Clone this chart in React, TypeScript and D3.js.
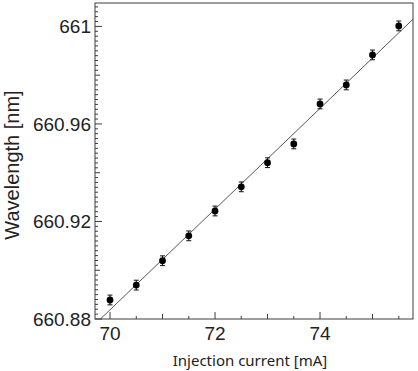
import { useEffect, useRef } from "react";
import * as d3 from "d3";

// injection current (mA) and measured wavelength (nm)
const current = [70, 70.5, 71, 71.5, 72, 72.5, 73, 73.5, 74, 74.5, 75, 75.5];
const wavelength = [
  660.8878, 660.8939, 660.9039, 660.9141, 660.9243, 660.9342,
  660.9441, 660.9518, 660.9682, 660.976, 660.9883, 661.0002,
];
const errBar = [0.002, 0.002, 0.002, 0.002, 0.002, 0.002, 0.002, 0.002, 0.002, 0.002, 0.002, 0.002];

const xTickLabels = [70, 72, 74];
const yTickLabels = [660.88, 660.92, 660.96, 661];

const W = 418;
const H = 371;
const left = 95;
const right = 413;
const top = 3;
const bottom = 319;

function App() {
  const ref = useRef<SVGSVGElement>(null);

  useEffect(() => {
    const svg = d3.select(ref.current);
    svg.selectAll("*").remove();

    const x = d3.scaleLinear().domain([69.714, 75.771]).range([left, right]);
    const y = d3.scaleLinear().domain([660.88, 661.0096]).range([bottom, top]);

    const axisColor = "#3c3c3c";
    const font = "'Liberation Sans', Arial, sans-serif";

    // clip for the fit line
    svg.append("defs").append("clipPath").attr("id", "plot-clip")
      .append("rect")
      .attr("x", left).attr("y", top)
      .attr("width", right - left).attr("height", bottom - top);

    // least squares fit
    const mx = d3.mean(current) as number;
    const my = d3.mean(wavelength) as number;
    const sxy = d3.sum(current, (c, i) => (c - mx) * (wavelength[i] - my));
    const sxx = d3.sum(current, c => (c - mx) * (c - mx));
    const slope = sxy / sxx;
    const fit = (c: number) => my + slope * (c - mx);
    const [x0, x1] = x.domain();

    svg.append("line")
      .attr("clip-path", "url(#plot-clip)")
      .attr("x1", x(x0)).attr("y1", y(fit(x0)))
      .attr("x2", x(x1)).attr("y2", y(fit(x1)))
      .attr("stroke", "#555")
      .attr("stroke-width", 1);

    // error bars
    const eb = svg.append("g").attr("stroke", "#111").attr("stroke-width", 1);
    current.forEach((c, i) => {
      const cx = x(c);
      const yt = y(wavelength[i] + errBar[i]);
      const yb = y(wavelength[i] - errBar[i]);
      eb.append("line").attr("x1", cx).attr("x2", cx).attr("y1", yt).attr("y2", yb);
      eb.append("line").attr("x1", cx - 2.5).attr("x2", cx + 2.5).attr("y1", yt).attr("y2", yt);
      eb.append("line").attr("x1", cx - 2.5).attr("x2", cx + 2.5).attr("y1", yb).attr("y2", yb);
    });

    svg.append("g")
      .selectAll("circle")
      .data(current)
      .join("circle")
      .attr("cx", d => x(d))
      .attr("cy", (d, i) => y(wavelength[i]))
      .attr("r", 3.4)
      .attr("fill", "#000");

    // frame
    svg.append("rect")
      .attr("x", left).attr("y", top)
      .attr("width", right - left).attr("height", bottom - top)
      .attr("fill", "none")
      .attr("stroke", axisColor)
      .attr("stroke-width", 1);

    // inward ticks on the x axis
    const xTicks = d3.range(140, 152).map(k => k / 2);
    svg.append("g")
      .selectAll("line")
      .data(xTicks)
      .join("line")
      .attr("x1", d => x(d)).attr("x2", d => x(d))
      .attr("y1", bottom)
      .attr("y2", d => bottom - (xTickLabels.includes(d) ? 7 : Number.isInteger(d) ? 5 : 3))
      .attr("stroke", axisColor);

    svg.append("g")
      .selectAll("text")
      .data(xTickLabels)
      .join("text")
      .attr("x", d => x(d))
      .attr("y", 340)
      .attr("text-anchor", "middle")
      .attr("font-family", font)
      .attr("font-size", 19)
      .attr("fill", "#222")
      .text(d => String(d));

    // inward ticks on the y axis, every 0.002
    const yTicks = d3.range(0, 65).map(k => 660.88 + k * 0.002).filter(v => v <= 661.0096);
    svg.append("g")
      .selectAll("line")
      .data(yTicks)
      .join("line")
      .attr("x1", left)
      .attr("x2", (d, i) => left + (i % 20 === 0 ? 7 : i % 10 === 0 ? 5 : 3))
      .attr("y1", d => y(d)).attr("y2", d => y(d))
      .attr("stroke", axisColor);

    svg.append("g")
      .selectAll("text")
      .data(yTickLabels)
      .join("text")
      .attr("x", left - 4)
      .attr("y", d => y(d))
      .attr("dy", "0.36em")
      .attr("text-anchor", "end")
      .attr("font-family", font)
      .attr("font-size", 19)
      .attr("fill", "#222")
      .text(d => String(Number(d.toFixed(2))));

    svg.append("text")
      .attr("transform", "translate(19,165) rotate(-90)")
      .attr("text-anchor", "middle")
      .attr("font-family", font)
      .attr("font-size", 20)
      .attr("fill", "#222")
      .text("Wavelength [nm]");

    svg.append("text")
      .attr("x", 250)
      .attr("y", 366)
      .attr("text-anchor", "middle")
      .attr("font-family", "'Noto Sans', sans-serif")
      .attr("font-size", 15)
      .attr("fill", "#222")
      .text("Injection current [mA]");
  }, []);

  return (
    <svg
      ref={ref}
      width={W}
      height={H}
      style={{ position: "absolute", left: 0, top: 0, background: "#fff" }}
    />
  );
}

export default App;
